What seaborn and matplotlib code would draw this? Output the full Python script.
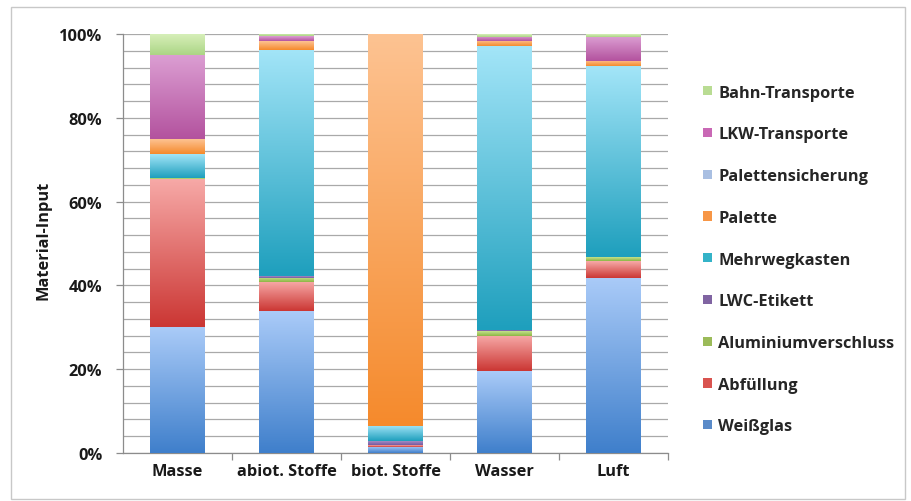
import numpy as np
import pandas as pd
import matplotlib
matplotlib.use("Agg")
import matplotlib.pyplot as plt
import seaborn as sns
from matplotlib.colors import LinearSegmentedColormap
from matplotlib.patches import Patch, Rectangle
from matplotlib.ticker import MultipleLocator, FuncFormatter, FixedLocator

# --- data (share of material input in %) ---
categories = ["Masse", "abiot. Stoffe", "biot. Stoffe", "Wasser", "Luft"]
weissglas = [30.0, 33.8, 1.5, 19.5, 41.9]
abfuellung = [35.4, 7.1, 0.3, 8.5, 4.0]
aluminium = [0.2, 1.0, 0.2, 1.1, 0.8]
lwc_etikett = [0.1, 0.3, 0.9, 0.3, 0.2]
mehrwegkasten = [5.7, 54.1, 3.6, 67.8, 45.5]
palette = [3.5, 2.1, 93.5, 1.2, 1.2]
palettensicherung = [0.0, 0.0, 0.0, 0.0, 0.0]
lkw_transporte = [20.2, 1.1, 0.0, 1.0, 5.8]
bahn_transporte = [4.9, 0.5, 0.0, 0.6, 0.6]

series_names = ["Weißglas", "Abfüllung", "Aluminiumverschluss", "LWC-Etikett",
                "Mehrwegkasten", "Palette", "Palettensicherung",
                "LKW-Transporte", "Bahn-Transporte"]
series_values = [weissglas, abfuellung, aluminium, lwc_etikett, mehrwegkasten,
                 palette, palettensicherung, lkw_transporte, bahn_transporte]

# (bottom shade, top shade, legend swatch)
series_colors = [
    ("#3f7fcb", "#aacbf8", "#5a8bc9"),
    ("#cb3633", "#f7aaa8", "#d9534f"),
    ("#8db544", "#c4e28c", "#9bbb59"),
    ("#7459a0", "#a48cc4", "#8064a2"),
    ("#1e9fbd", "#a3e5f8", "#34b3c8"),
    ("#f58a2c", "#fdc392", "#f79646"),
    ("#8fadd8", "#c6d6ee", "#a9bfe2"),
    ("#b3529e", "#dc9fd3", "#c968b5"),
    ("#acd585", "#d6efb9", "#b9dc93"),
]

sns.set_theme(style="white")
font = ["Open Sans", "DejaVu Sans"]
plt.rcParams["font.family"] = font
plt.rcParams["font.weight"] = "bold"
fs = 11.8

fig = plt.figure(figsize=(9.12, 5.02), dpi=100)
ax = fig.add_axes([0.135, 0.0956, 0.5975, 0.8344])

bar_width = 0.5
values = np.array(series_values, dtype=float)
tops = np.cumsum(values, axis=0)
bottoms = tops - values

# stacked bars: cumulative totals drawn from the top series down
for k in range(len(series_names) - 1, -1, -1):
    df = pd.DataFrame({"cat": categories, "val": tops[k]})
    sns.barplot(data=df, x="cat", y="val", color=series_colors[k][2],
                saturation=1, width=bar_width, ax=ax, zorder=2,
                edgecolor="none")

# vertical gradient shading per segment (dark bottom, light top)
grad = np.linspace(0, 1, 256).reshape(-1, 1)
for k, (lo, hi, _) in enumerate(series_colors):
    cmap = LinearSegmentedColormap.from_list(f"g{k}", [lo, hi])
    for j in range(len(categories)):
        if values[k, j] <= 0:
            continue
        ax.imshow(grad, cmap=cmap, origin="lower", aspect="auto",
                  extent=[j - bar_width / 2, j + bar_width / 2,
                          bottoms[k, j], tops[k, j]],
                  zorder=3, interpolation="bilinear")

ax.set_xlim(-0.5, len(categories) - 0.5)
ax.set_ylim(0, 100)

# axes styling
ax.yaxis.set_major_locator(MultipleLocator(20))
ax.yaxis.set_minor_locator(MultipleLocator(4))
ax.yaxis.set_major_formatter(FuncFormatter(lambda v, _: f"{v:.0f}%"))
ax.grid(axis="y", which="both", color="#a9a9a9", linewidth=0.9, zorder=0)
ax.set_axisbelow(True)
ax.xaxis.set_minor_locator(FixedLocator([i + 0.5 for i in range(len(categories))]))
ax.tick_params(axis="x", which="major", length=0, pad=7, labelsize=fs)
ax.tick_params(axis="x", which="minor", length=5, width=0.9, color="#8c8c8c",
               direction="out", bottom=True)
ax.tick_params(axis="y", which="major", length=5, width=0.9, color="#8c8c8c",
               direction="out", left=True, pad=10, labelsize=fs)
ax.tick_params(axis="y", which="minor", length=0)
for lab in ax.get_xticklabels() + ax.get_yticklabels():
    lab.set_fontweight("bold")
    lab.set_color("#1a1a1a")
for side in ("top", "right"):
    ax.spines[side].set_visible(False)
for side in ("left", "bottom"):
    ax.spines[side].set_color("#8c8c8c")
    ax.spines[side].set_linewidth(0.9)

ax.set_xlabel("")
ax.set_ylabel("Material-Input", fontsize=fs, fontweight="bold", color="#1a1a1a")
ax.yaxis.set_label_coords(-0.132, 0.51)

# legend, listed from the top series down
handles = [Patch(facecolor=series_colors[k][2], edgecolor="none")
           for k in range(len(series_names) - 1, -1, -1)]
labels = series_names[::-1]
fig.legend(handles, labels, loc="center left", bbox_to_anchor=(0.755, 0.481),
           frameon=False, handlelength=0.5, handleheight=0.5,
           handletextpad=0.4, labelspacing=1.57,
           prop={"family": font, "weight": "bold", "size": fs})

# chart-area frame
fig.patches.append(Rectangle((0.012, 0.004), 0.98, 0.98, transform=fig.transFigure,
                             fill=False, edgecolor="#c8c8c8", linewidth=1.0))

fig.savefig("out.png", dpi=100)
